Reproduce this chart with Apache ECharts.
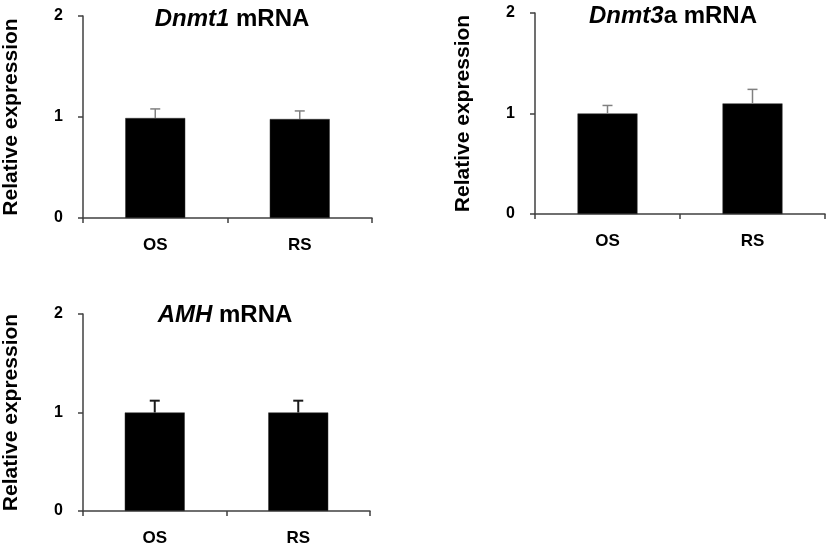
<!DOCTYPE html>
<html>
<head>
<meta charset="utf-8">
<script src="https://cdn.jsdelivr.net/npm/echarts@6/dist/echarts.min.js"></script>
<style>
html,body{margin:0;padding:0;background:#fff;}
#chart{width:827px;height:547px;}
</style>
</head>
<body>
<div id="chart"></div>
<script>
const categories = ['OS', 'RS'];
const yTicks = [0, 1, 2];
const dnmt1Mean = [0.99, 0.98];
const dnmt1Err = [0.09, 0.08];
const dnmt3aMean = [1.00, 1.10];
const dnmt3aErr = [0.08, 0.14];
const amhMean = [1.00, 1.00];
const amhErr = [0.12, 0.12];

const FONT = 'Arial, "Liberation Sans", sans-serif';
const panels = [
  {italic: 'Dnmt1', rest: ' mRNA', mean: dnmt1Mean, err: dnmt1Err, grid: {left: 80, top: 16, width: 292, height: 202}, titleX: 227, titleY: 2, errColor: '#808080', errWidth: 1.5},
  {italic: 'Dnmt3', rest: 'a mRNA', mean: dnmt3aMean, err: dnmt3aErr, grid: {left: 535, top: 13, width: 290, height: 201}, titleX: 668, titleY: -1, errColor: '#808080', errWidth: 1.5},
  {italic: 'AMH', rest: ' mRNA', mean: amhMean, err: amhErr, grid: {left: 82, top: 314, width: 288, height: 201}, titleX: 220, titleY: 298, errColor: '#1a1a1a', errWidth: 2}
];

const option = {
  backgroundColor: '#fff',
  animation: false,
  textStyle: {fontFamily: FONT},
  title: panels.map(p => ({
    text: '{i|' + p.italic + '}{n|' + p.rest + '}',
    left: p.titleX, top: p.titleY, textAlign: 'center',
    textStyle: {
      rich: {
        i: {fontStyle: 'italic', fontWeight: 'bold', fontSize: 24, fontFamily: FONT, color: '#000'},
        n: {fontWeight: 'bold', fontSize: 24, fontFamily: FONT, color: '#000'}
      }
    }
  })),
  grid: panels.map(p => p.grid),
  xAxis: panels.map((p, i) => ({
    type: 'category', gridIndex: i, data: categories,
    axisLine: {lineStyle: {color: '#404040', width: 1.5}},
    axisTick: {show: true, length: 5, lineStyle: {color: '#404040', width: 1.5}},
    axisLabel: {fontWeight: 'bold', fontSize: 17, color: '#000', margin: 19, fontFamily: FONT}
  })),
  yAxis: panels.map((p, i) => ({
    type: 'value', gridIndex: i, min: yTicks[0], max: yTicks[yTicks.length - 1], interval: 1,
    name: 'Relative expression', nameLocation: 'middle', nameGap: 61,
    nameTextStyle: {fontWeight: 'bold', fontSize: 21, color: '#000', fontFamily: FONT},
    axisLine: {show: true, lineStyle: {color: '#404040', width: 1.5}},
    axisTick: {show: true, length: 5, lineStyle: {color: '#404040', width: 1.5}},
    axisLabel: {fontWeight: 'bold', fontSize: 16, color: '#000', margin: 20, fontFamily: FONT},
    splitLine: {show: false}
  })),
  series: []
};

panels.forEach((p, i) => {
  option.series.push({
    type: 'bar', xAxisIndex: i, yAxisIndex: i, data: p.mean, barWidth: 60,
    itemStyle: {color: '#000', borderColor: '#333', borderWidth: 0.5}, z: 2
  });
  option.series.push({
    type: 'custom', xAxisIndex: i, yAxisIndex: i, z: 3,
    data: p.mean.map((m, k) => [k, m, m + p.err[k]]),
    renderItem: function (params, api) {
      const x = api.value(0);
      const base = api.coord([x, api.value(1)]);
      const top = api.coord([x, api.value(2)]);
      const st = {stroke: p.errColor, lineWidth: p.errWidth};
      return {
        type: 'group',
        children: [
          {type: 'line', shape: {x1: base[0], y1: base[1], x2: top[0], y2: top[1]}, style: st},
          {type: 'line', shape: {x1: top[0] - 5, y1: top[1], x2: top[0] + 5, y2: top[1]}, style: st}
        ]
      };
    }
  });
});

const chart = echarts.init(document.getElementById('chart'), null, {renderer: 'canvas'});
chart.setOption(option);
</script>
</body>
</html>
